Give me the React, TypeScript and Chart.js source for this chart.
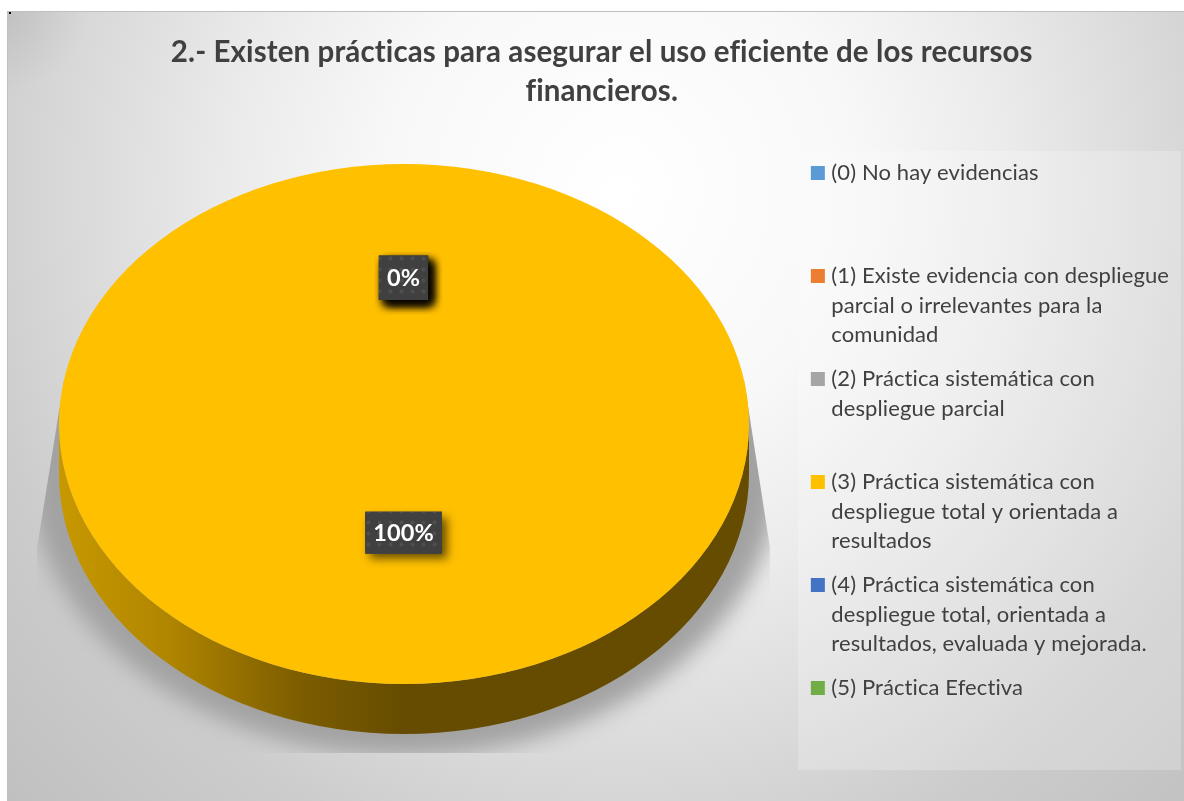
import React, { useEffect, useRef } from "react";
import { Chart, registerables } from "chart.js";

Chart.register(...registerables);

const titleLines = [
  "2.- Existen prácticas para asegurar el uso eficiente de los recursos",
  "financieros.",
];
const legendLines = [
  ["(0) No hay evidencias", "", ""],
  ["(1) Existe evidencia con despliegue", "parcial o irrelevantes para la", "comunidad"],
  ["(2) Práctica sistemática con", "despliegue parcial", ""],
  ["(3) Práctica sistemática con", "despliegue total y orientada a", "resultados"],
  ["(4) Práctica sistemática con", "despliegue total, orientada a", "resultados, evaluada y mejorada."],
  ["(5) Práctica Efectiva"],
];
const categories = legendLines.map((l) => l[0]);
const values = [0, 0, 0, 100, 0, 0];
const colors = ["#5b9bd5", "#ed7d31", "#a5a5a5", "#ffc000", "#4472c4", "#70ad47"];

const FONT = "Lato, Carlito, 'Open Sans', sans-serif";
const TEXT = "#404040";
const CX = 404;
const CY = 424;
const RX = 345;
const RY = 260;
const DEPTH = 50;

const backgroundPlugin = {
  id: "bg",
  beforeInit(chart: any) {
    // no ligatures in any text of the chart
    chart.ctx.letterSpacing = "0.1px";
  },
  beforeDraw(chart: any) {
    const { ctx, width, height } = chart;
    const left = 7;
    const top = 11;
    ctx.letterSpacing = "0.1px";
    ctx.save();
    ctx.fillStyle = "#ffffff";
    ctx.fillRect(0, 0, width, height);
    ctx.beginPath();
    ctx.rect(left, top, width - left, height - top);
    ctx.clip();
    ctx.save();
    ctx.translate(620, 190);
    ctx.scale(1, 1.05);
    const g = ctx.createRadialGradient(0, 0, 0, 0, 0, 860);
    g.addColorStop(0, "#ffffff");
    g.addColorStop(0.27, "#f8f8f8");
    g.addColorStop(0.45, "#ebebeb");
    g.addColorStop(0.64, "#d9d9d9");
    g.addColorStop(0.77, "#cccccc");
    g.addColorStop(1, "#bfbfbf");
    ctx.fillStyle = g;
    ctx.fillRect(-800, -400, 1600, 1200);
    ctx.restore();
    const corner = ctx.createRadialGradient(left, top, 0, left, top, 80);
    corner.addColorStop(0, "rgba(0,0,0,0.07)");
    corner.addColorStop(1, "rgba(0,0,0,0)");
    ctx.fillStyle = corner;
    ctx.fillRect(left, top, 90, 90);
    ctx.fillStyle = "#bfbfbf";
    ctx.fillRect(left, top - 1, width - left, 2);
    ctx.fillRect(left, top, 1, height - top);
    ctx.fillStyle = "#000000";
    ctx.fillRect(9, 12, 2, 2);

    // legend panel
    ctx.fillStyle = "rgba(255,255,255,0.22)";
    ctx.fillRect(798, 151, 383, 619);

    // soft shadow below the disc
    ctx.save();
    ctx.beginPath();
    ctx.moveTo(CX - RX + 5, CY - 44);
    ctx.lineTo(CX - RX - 22, 548);
    ctx.lineTo(CX - RX - 22, 753);
    ctx.lineTo(CX + RX + 21, 753);
    ctx.lineTo(CX + RX + 21, 548);
    ctx.lineTo(CX + RX - 5, CY - 44);
    ctx.closePath();
    ctx.clip();
    ctx.filter = "blur(11px)";
    ctx.fillStyle = "#a2a2a2";
    ctx.beginPath();
    ctx.ellipse(CX, CY + 40, RX + 32, RY + 32, 0, 0, Math.PI * 2);
    ctx.fill();
    ctx.restore();
    ctx.restore();
  },
};

const discPlugin = {
  id: "disc",
  beforeDatasetsDraw(chart: any) {
    const { ctx } = chart;
    const arc = chart.getDatasetMeta(0).data[0];
    const k = RY / RX;
    ctx.save();
    // side wall
    const g = ctx.createLinearGradient(CX - RX, 0, CX + RX, 0);
    g.addColorStop(0, "#c79800");
    g.addColorStop(0.15, "#b28700");
    g.addColorStop(0.35, "#7c5d00");
    g.addColorStop(0.5, "#664c00");
    g.addColorStop(1, "#664c00");
    ctx.fillStyle = g;
    ctx.beginPath();
    ctx.ellipse(CX, CY, RX, RY, 0, 0, Math.PI);
    ctx.lineTo(CX - RX, CY + DEPTH);
    ctx.ellipse(CX, CY + DEPTH, RX, RY, 0, Math.PI, 0, true);
    ctx.closePath();
    ctx.fill();
    ctx.restore();

    ctx.save();
    ctx.translate(CX, CY);
    ctx.scale(1, k);
    ctx.translate(-arc.x, -arc.y);
  },
  afterDatasetsDraw(chart: any) {
    const { ctx } = chart;
    ctx.restore();
    const meta = chart.getDatasetMeta(0);
    const data = chart.data.datasets[0].data as number[];
    const total = data.reduce((a, b) => a + b, 0);
    const k = RY / RX;

    const tile = document.createElement("canvas");
    tile.width = 11;
    tile.height = 11;
    const t = tile.getContext("2d")!;
    t.fillStyle = "#404040";
    t.fillRect(0, 0, 11, 11);
    t.fillStyle = "#4f4f4f";
    t.beginPath();
    t.arc(5.5, 5.5, 2, 0, Math.PI * 2);
    t.fill();
    const pattern = ctx.createPattern(tile, "repeat");

    meta.data.forEach((arc: any, i: number) => {
      const v = data[i];
      const label = `${Math.round((v / total) * 100)}%`;
      const mid = (arc.startAngle + arc.endAngle) / 2;
      const factor = v === 0 ? 0.562 : 0.418;
      const x = CX + Math.cos(mid) * RX * factor - 0.5;
      const y = CY + Math.sin(mid) * RX * factor * k;
      ctx.save();
      ctx.font = `bold 23.5px ${FONT}`;
      const w = ctx.measureText(label).width + 16;
      const h = v === 0 ? 44 : 42;
      ctx.shadowColor = "rgba(0,0,0,0.6)";
      ctx.shadowBlur = 9;
      ctx.shadowOffsetX = 5;
      ctx.shadowOffsetY = 5;
      ctx.fillStyle = "#404040";
      ctx.fillRect(x - w / 2, y - h / 2, w, h);
      ctx.shadowColor = "transparent";
      ctx.fillStyle = pattern;
      ctx.fillRect(x - w / 2, y - h / 2, w, h);
      ctx.fillStyle = "#ffffff";
      ctx.textAlign = "center";
      ctx.textBaseline = "middle";
      ctx.fillText(label, x, y + 1);
      ctx.restore();
    });
  },
};

export default function App() {
  const ref = useRef<HTMLCanvasElement>(null);
  useEffect(() => {
    const chart = new Chart(ref.current!, {
      type: "pie",
      data: {
        labels: categories,
        datasets: [
          {
            data: values,
            backgroundColor: colors,
            borderWidth: 0,
            radius: RX,
            clip: false,
          } as any,
        ],
      },
      plugins: [backgroundPlugin, discPlugin],
      options: {
        responsive: false,
        animation: false,
        devicePixelRatio: 1,
        layout: { padding: { left: 28, right: 8.5, top: 32.5, bottom: 0 } },
        plugins: {
          tooltip: { enabled: false },
          title: {
            display: true,
            text: titleLines,
            color: TEXT,
            font: { family: FONT, size: 29.5, weight: "bold", lineHeight: 39 / 29.5 },
            padding: { top: 0, bottom: 37 },
          },
          legend: {
            position: "right",
            align: "start",
            fullSize: false,
            labels: {
              color: TEXT,
              boxWidth: 5,
              boxHeight: 5,
              padding: 14.5,
              font: { family: FONT, size: 22, lineHeight: 29.5 / 22 },
              generateLabels: () =>
                legendLines.map((text, i) => ({
                  text: text as any,
                  fillStyle: colors[i],
                  strokeStyle: colors[i],
                  fontColor: TEXT,
                  lineWidth: 9,
                  hidden: false,
                  index: i,
                })),
            },
          },
        },
      },
    } as any);
    return () => chart.destroy();
  }, []);
  return (
    <div style={{ position: "absolute", left: 0, top: 0, width: 1184, height: 801 }}>
      <canvas ref={ref} width={1184} height={801} style={{ display: "block" }} />
    </div>
  );
}
